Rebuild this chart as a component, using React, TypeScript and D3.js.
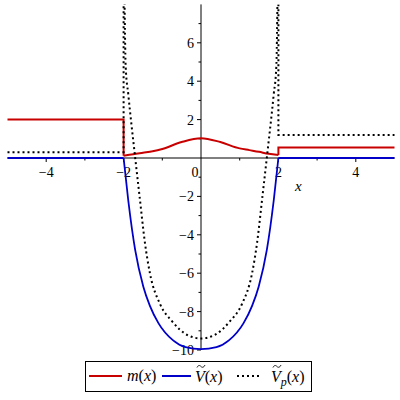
import React from 'react';
import * as d3 from 'd3';

const xDomain: [number, number] = [-5, 5];
const yDomain: [number, number] = [-10, 8];
const xTicks = [-4, -2, 0, 2, 4];
const xMinorTicks = [-3, -1, 1, 3];
const yTicks = [-10, -8, -6, -4, -2, 2, 4, 6];
const yMinorTicks = [-9, -7, -5, -3, -1, 1, 3, 5, 7];

// m(x)
const mLeftX = [-5, -2, -2];
const mLeftY = [2, 2, 0.12];
const mMidX = [-2, -1.75, -1.5, -1.25, -1, -0.5, 0, 0.5, 1, 1.25, 1.5, 1.75, 2];
const mMidY = [0.12, 0.19, 0.27, 0.35, 0.47, 0.83, 1.03, 0.83, 0.5, 0.41, 0.32, 0.22, 0.16];
const mRightX = [2, 2, 5];
const mRightY = [0.16, 0.55, 0.55];

// V~(x)
const vLeftX = [-5, -2];
const vLeftY = [0, 0];
const vMidX = [-2, -1.88, -1.7, -1.49, -1.32, -1.1, -0.72, -0.4, 0, 0.4, 0.72, 1.1, 1.32, 1.49, 1.7, 1.88, 2];
const vMidY = [0, -2.2, -4.8, -6.7, -7.7, -8.6, -9.5, -9.85, -9.95, -9.85, -9.5, -8.6, -7.7, -6.7, -4.8, -2.2, 0];
const vRightX = [2, 5];
const vRightY = [0, 0];

// V~p(x)
const vpLeftX = [-5, -2, -2];
const vpLeftY = [0.3, 0.3, 14];
const vpMidX = [-1.995, -1.946, -1.878, -1.7, -1.59, -1.45, -1.32, -1.06, -0.75, -0.35, 0, 0.35, 0.75, 1.06, 1.32, 1.45, 1.59, 1.7, 1.878, 1.946, 1.995];
const vpMidY = [12, 4.74, 3.3, 0, -1.95, -4.4, -6.0, -7.6, -8.5, -9.22, -9.4, -9.22, -8.5, -7.6, -6.0, -4.4, -1.95, 0, 3.3, 4.74, 12];
const vpRightX = [2, 2, 5];
const vpRightY = [14, 1.2, 1.2];

const RED = '#c80000';
const BLUE = '#0000c8';
const txt = { fontFamily: '"Liberation Serif"' } as React.CSSProperties;

function Tilde({ x0, y0 }: { x0: number; y0: number }) {
  return (
    <path
      d={`M${x0},${y0 + 1.5} C${x0 + 1.5},${y0 - 1.5} ${x0 + 3},${y0 - 0.5} ${x0 + 4},${y0 + 0.5} S${x0 + 6.5},${y0 + 2} ${x0 + 8},${y0 - 1}`}
      fill="none"
      stroke="#000"
      strokeWidth={0.9}
    />
  );
}

export default function App() {
  const x = d3.scaleLinear().domain(xDomain).range([7.5, 394.5]);
  const y = d3.scaleLinear().domain(yDomain).range([350, 4.4]);

  const zip = (xs: number[], ys: number[]) => xs.map((v, i) => [v, ys[i]] as [number, number]);
  const lin = d3.line<[number, number]>().x(d => x(d[0])).y(d => y(d[1]));
  const smooth = d3.line<[number, number]>().x(d => x(d[0])).y(d => y(d[1])).curve(d3.curveMonotoneX);

  const x0 = x(0);
  const y0 = y(0);
  const lab = (t: number) => (t < 0 ? '\u2212' + Math.abs(t) : String(t));

  return (
    <svg width={400} height={400} style={{ position: 'absolute', left: 0, top: 0, background: '#fff' }}>
      <defs>
        <clipPath id="plotclip">
          <rect x={0} y={y(8)} width={400} height={y(-10) - y(8) + 2} />
        </clipPath>
      </defs>
      {/* axes */}
      <line x1={x(-5)} x2={x(5)} y1={y0} y2={y0} stroke="#000" strokeWidth={1} />
      <line x1={x0} x2={x0} y1={y(8)} y2={y(-10)} stroke="#000" strokeWidth={1} />
      {xTicks.filter(t => t !== 0).map(t => (
        <line key={'xt' + t} x1={x(t)} x2={x(t)} y1={y0} y2={y0 + 4} stroke="#000" />
      ))}
      {xMinorTicks.map(t => (
        <line key={'xm' + t} x1={x(t)} x2={x(t)} y1={y0} y2={y0 + 2.5} stroke="#000" />
      ))}
      {yTicks.map(t => (
        <line key={'yt' + t} x1={x0 - 4} x2={x0} y1={y(t)} y2={y(t)} stroke="#000" />
      ))}
      {yMinorTicks.map(t => (
        <line key={'ym' + t} x1={x0 - 2.5} x2={x0} y1={y(t)} y2={y(t)} stroke="#000" />
      ))}
      {xTicks.map(t => (
        <text key={'xl' + t} style={txt} x={t === 0 ? x0 - 6 : x(t)} y={y0 + 19} fontSize={14} textAnchor="middle" fill="#000">
          {lab(t)}
        </text>
      ))}
      {yTicks.map(t => (
        <text key={'yl' + t} style={txt} x={x0 - 7} y={y(t)} dy="0.35em" fontSize={14} textAnchor="end" fill="#000">
          {lab(t)}
        </text>
      ))}
      <text style={txt} x={295} y={191} fontSize={15} fontStyle="italic" fill="#000">x</text>

      <g clipPath="url(#plotclip)" fill="none">
        {/* m(x) */}
        <path d={lin(zip(mLeftX, mLeftY)) || ''} stroke={RED} strokeWidth={2} />
        <path d={smooth(zip(mMidX, mMidY)) || ''} stroke={RED} strokeWidth={2} />
        <path d={lin(zip(mRightX, mRightY)) || ''} stroke={RED} strokeWidth={2} />
        {/* V(x) */}
        <path d={lin(zip(vLeftX, vLeftY)) || ''} stroke={BLUE} strokeWidth={1.8} />
        <path d={smooth(zip(vMidX, vMidY)) || ''} stroke={BLUE} strokeWidth={1.8} />
        <path d={lin(zip(vRightX, vRightY)) || ''} stroke={BLUE} strokeWidth={1.8} />
        {/* Vp(x) */}
        <path d={lin(zip(vpLeftX, vpLeftY)) || ''} stroke="#000" strokeWidth={2} strokeDasharray="2 3" />
        <path d={smooth(zip(vpMidX, vpMidY)) || ''} stroke="#000" strokeWidth={2} strokeDasharray="2 3" />
        <path d={lin(zip(vpRightX, vpRightY)) || ''} stroke="#000" strokeWidth={2} strokeDasharray="2 3" />
      </g>

      {/* legend */}
      <rect x={85.5} y={361.5} width={226} height={30} fill="#fff" stroke="#000" strokeWidth={1} />
      <line x1={89} x2={122} y1={376} y2={376} stroke={RED} strokeWidth={2} />
      <text style={txt} x={127} y={381} fontSize={16} fill="#000">
        <tspan fontStyle="italic">m</tspan>(<tspan fontStyle="italic">x</tspan>)
      </text>
      <line x1={162} x2={191} y1={376} y2={376} stroke={BLUE} strokeWidth={2} />
      <Tilde x0={197} y0={366} />
      <text style={txt} x={195} y={382} fontSize={16} fill="#000">
        <tspan fontStyle="italic">V</tspan>(<tspan fontStyle="italic">x</tspan>)
      </text>
      <line x1={237} x2={262} y1={376} y2={376} stroke="#000" strokeWidth={2} strokeDasharray="2 3" />
      <Tilde x0={273} y0={366} />
      <text style={txt} x={271} y={382} fontSize={16} fill="#000">
        <tspan fontStyle="italic">V</tspan>
        <tspan fontStyle="italic" fontSize={12} dy={4}>p</tspan>
        <tspan dy={-4}>(</tspan><tspan fontStyle="italic">x</tspan>)
      </text>
    </svg>
  );
}
